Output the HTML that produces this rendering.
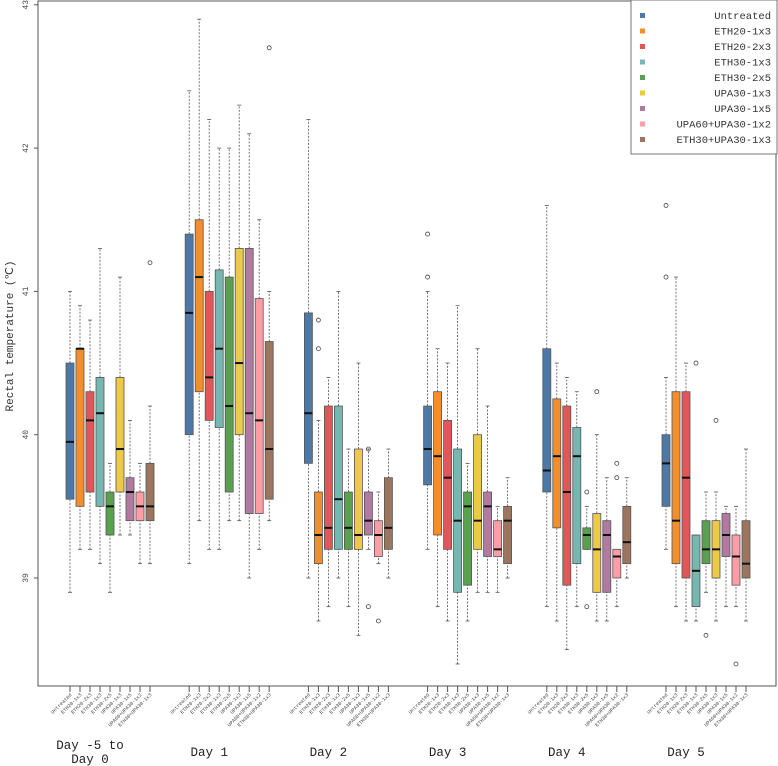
<!DOCTYPE html>
<html><head><meta charset="utf-8"><style>
body{margin:0;background:#fff;}
svg{display:block;font-family:"Liberation Mono",monospace;}
</style></head><body>
<svg id="chart" width="778" height="766"></svg>
<script>
const days=["Day -5 to|Day 0","Day 1","Day 2","Day 3","Day 4","Day 5"];
const groups=["Untreated","ETH20-1x3","ETH20-2x3","ETH30-1x3","ETH30-2x5","UPA30-1x3","UPA30-1x5","UPA60+UPA30-1x2","ETH30+UPA30-1x3"];
const colors=["#4e79a7","#f28e2b","#e15759","#76b7b2","#59a14f","#edc948","#b07aa1","#ff9da7","#9c755f"];
const yTicks=[39,40,41,42,43];
// [lowWhisker, q1, median, q3, highWhisker] per day per group
const day0=[[38.9,39.55,39.95,40.5,41.0],[39.2,39.5,40.6,40.6,40.9],[39.2,39.6,40.1,40.3,40.8],[39.1,39.5,40.15,40.4,41.3],[38.9,39.3,39.5,39.6,39.8],[39.3,39.6,39.9,40.4,41.1],[39.3,39.4,39.6,39.7,40.1],[39.1,39.4,39.5,39.6,39.8],[39.1,39.4,39.5,39.8,40.2]];
const day1=[[39.1,40.0,40.85,41.4,42.4],[39.4,40.3,41.1,41.5,42.9],[39.2,40.1,40.4,41.0,42.2],[39.2,40.05,40.6,41.15,42.0],[39.4,39.6,40.2,41.1,42.0],[39.4,40.0,40.5,41.3,42.3],[39.0,39.45,40.15,41.3,42.1],[39.2,39.45,40.1,40.95,41.5],[39.4,39.55,39.9,40.65,41.0]];
const day2=[[39.0,39.8,40.15,40.85,42.2],[38.7,39.1,39.3,39.6,40.1],[38.8,39.2,39.35,40.2,40.4],[39.0,39.2,39.55,40.2,41.0],[38.8,39.2,39.35,39.6,39.9],[38.6,39.2,39.3,39.9,40.5],[39.2,39.3,39.4,39.6,39.9],[39.1,39.15,39.3,39.4,39.6],[39.0,39.2,39.35,39.7,39.9]];
const day3=[[39.2,39.65,39.9,40.2,41.0],[38.8,39.3,39.85,40.3,40.6],[38.7,39.2,39.7,40.1,40.5],[38.4,38.9,39.4,39.9,40.9],[38.7,38.95,39.5,39.6,39.8],[38.9,39.2,39.4,40.0,40.6],[38.9,39.15,39.5,39.6,40.2],[38.9,39.15,39.2,39.4,39.5],[39.0,39.1,39.4,39.5,39.7]];
const day4=[[38.8,39.6,39.75,40.6,41.6],[38.7,39.35,39.85,40.25,40.5],[38.5,38.95,39.6,40.2,40.4],[38.8,39.1,39.85,40.05,40.3],[39.2,39.2,39.3,39.35,39.5],[38.7,38.9,39.2,39.45,40.0],[38.7,38.9,39.3,39.4,39.7],[38.8,39.0,39.15,39.2,39.2],[39.0,39.1,39.25,39.5,39.7]];
const day5=[[39.2,39.5,39.8,40.0,40.4],[38.8,39.1,39.4,40.3,41.1],[38.7,39.0,39.7,40.3,40.5],[38.7,38.8,39.05,39.3,39.3],[38.9,39.1,39.2,39.4,39.6],[38.7,39.0,39.2,39.4,39.6],[38.8,39.15,39.3,39.45,39.5],[38.8,38.95,39.15,39.3,39.5],[38.7,39.0,39.1,39.4,39.9]];
const allDays=[day0,day1,day2,day3,day4,day5];
// outliers: [dayIndex, groupIndex, value]
const outliers=[[0,8,41.2],[1,8,42.7],[2,1,40.8],[2,1,40.6],[2,6,39.9],[2,6,38.8],[2,7,38.7],[3,0,41.4],[3,0,41.1],[4,4,39.6],[4,4,38.8],[4,5,40.3],[4,7,39.8],[4,7,39.7],[5,0,41.6],[5,0,41.1],[5,3,40.5],[5,4,38.6],[5,5,40.1],[5,7,38.4]];

const NS="http://www.w3.org/2000/svg";
const svg=document.getElementById('chart');
function mk(tag,attrs,parent){const e=document.createElementNS(NS,tag);for(const k in attrs)e.setAttribute(k,attrs[k]);(parent||svg).appendChild(e);return e;}
const L=38,R=776,T=1,B=686;
function y(v){return 578-(v-39)*143.3;}
function x(d,g){return 70+119.2*d+10*g;}

const frame=mk('rect',{x:L,y:T,width:R-L,height:B-T,fill:'none',stroke:'#555','stroke-width':1});



yTicks.forEach(t=>{
  const ln=mk('line',{x1:L-4,x2:L,y1:y(t),y2:y(t),stroke:'#555'});
  
  
  const tx=mk('text',{x:0,y:0,'font-size':8,fill:'#444','text-anchor':'middle',transform:`translate(${L-10},${y(t)}) rotate(-90)`});
  tx.textContent=t;
  
  
});
const yt=mk('text',{x:0,y:0,'font-size':11,fill:'#333','text-anchor':'middle',transform:`translate(13,336) rotate(-90)`});
yt.textContent='Rectal temperature (℃)';



allDays.forEach((day,d)=>{
  day.forEach((s,g)=>{
    const cx=x(d,g);
    const w1=mk('line',{x1:cx,x2:cx,y1:y(s[3]),y2:y(s[4]),stroke:'#555','stroke-dasharray':'2,1.5','stroke-width':0.8});
    
    
    const w2=mk('line',{x1:cx,x2:cx,y1:y(s[0]),y2:y(s[1]),stroke:'#555','stroke-dasharray':'2,1.5','stroke-width':0.8});
    
    
    [s[0],s[4]].forEach(v=>{
      const c=mk('line',{x1:cx-2,x2:cx+2,y1:y(v),y2:y(v),stroke:'#555','stroke-width':0.8});
      
      
    });
    const b=mk('rect',{x:cx-4,y:y(s[3]),width:8,height:Math.max(0.5,y(s[1])-y(s[3])),fill:colors[g],stroke:'#555','stroke-width':0.8});
    
    
    const m=mk('line',{x1:cx-4,x2:cx+4,y1:y(s[2]),y2:y(s[2]),stroke:'#111','stroke-width':2});
    
    
    const tk=mk('line',{x1:cx,x2:cx,y1:B,y2:B+6,stroke:'#555'});
    
    
    const lb=mk('text',{x:0,y:0,'font-size':5,fill:'#444','text-anchor':'end',transform:`translate(${cx+2},${B+9}) rotate(-45)`});
    lb.textContent=groups[g];
    
    
  });
  const parts=days[d].split('|');
  const gc=x(d,2);
  parts.forEach((p,i)=>{
    const t=mk('text',{x:gc,y:(parts.length>1?749:756)+i*14,'font-size':12.5,fill:'#222','text-anchor':'middle'});
    t.textContent=p;
    
    
  });
});

outliers.forEach(o=>{
  const c=mk('circle',{cx:x(o[0],o[1]),cy:y(o[2]),r:2,fill:'none',stroke:'#444','stroke-width':0.8});
  
  
});

const lg=mk('g',{});


mk('rect',{x:631,y:0,width:146,height:154,fill:'#fff',stroke:'#555','stroke-width':0.8},lg);
groups.forEach((gname,i)=>{
  const yy=16+i*15.5;
  const sq=mk('rect',{x:640,y:yy-3,width:5,height:5,fill:colors[i]},lg);
  
  
  const t=mk('text',{x:771,y:yy+3,'font-size':10.5,fill:'#333','text-anchor':'end'},lg);
  t.textContent=gname;
  
  
});
</script>
</body></html>
